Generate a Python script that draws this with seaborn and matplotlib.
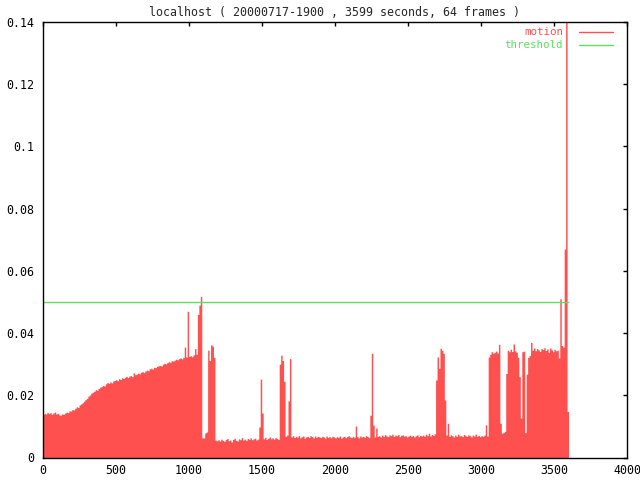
import numpy as np
import pandas as pd
import matplotlib
matplotlib.use("Agg")
import matplotlib.pyplot as plt
import seaborn as sns

title = "localhost ( 20000717-1900 , 3599 seconds, 64 frames )"
step = 10
times = list(range(0, 3600, step))
motion = [
    0.0138, 0.0142, 0.0140, 0.0145, 0.0141, 0.0144, 0.0139, 0.0143, 0.0146, 0.0140,
    0.0142, 0.0137, 0.0136, 0.0140, 0.0139, 0.0143, 0.0146, 0.0144, 0.0150, 0.0149,
    0.0154, 0.0153, 0.0158, 0.0163, 0.0161, 0.0169, 0.0172, 0.0176, 0.0181, 0.0186,
    0.0190, 0.0197, 0.0201, 0.0207, 0.0210, 0.0213, 0.0218, 0.0216, 0.0222, 0.0226,
    0.0228, 0.0232, 0.0230, 0.0237, 0.0241, 0.0238, 0.0243, 0.0240, 0.0246, 0.0248,
    0.0250, 0.0247, 0.0253, 0.0251, 0.0256, 0.0254, 0.0258, 0.0261, 0.0257, 0.0262,
    0.0263, 0.0260, 0.0272, 0.0266, 0.0268, 0.0271, 0.0269, 0.0274, 0.0276, 0.0273,
    0.0278, 0.0281, 0.0279, 0.0285, 0.0287, 0.0284, 0.0290, 0.0289, 0.0293, 0.0295,
    0.0296, 0.0294, 0.0300, 0.0303, 0.0301, 0.0305, 0.0308, 0.0306, 0.0311, 0.0310,
    0.0313, 0.0316, 0.0314, 0.0318, 0.0320, 0.0317, 0.0322, 0.0355, 0.0323, 0.0470,
    0.0325, 0.0327, 0.0324, 0.0330, 0.0350, 0.0332, 0.0460, 0.0490, 0.0518, 0.0063,
    0.0063, 0.0079, 0.0082, 0.0345, 0.0312, 0.0362, 0.0358, 0.0322, 0.0056, 0.0054,
    0.0057, 0.0053, 0.0059, 0.0055, 0.0052, 0.0058, 0.0061, 0.0054, 0.0056, 0.0050,
    0.0058, 0.0062, 0.0055, 0.0053, 0.0060, 0.0057, 0.0064, 0.0056, 0.0059, 0.0055,
    0.0061, 0.0058, 0.0063, 0.0057, 0.0060, 0.0062, 0.0056, 0.0059, 0.0098, 0.0252,
    0.0143, 0.0060, 0.0065, 0.0058, 0.0062, 0.0066, 0.0060, 0.0063, 0.0059, 0.0064,
    0.0061, 0.0058, 0.0300, 0.0329, 0.0312, 0.0245, 0.0068, 0.0072, 0.0182, 0.0318,
    0.0066, 0.0070, 0.0064, 0.0068, 0.0065, 0.0071, 0.0063, 0.0067, 0.0069, 0.0062,
    0.0066, 0.0068, 0.0064, 0.0070, 0.0067, 0.0063, 0.0069, 0.0065, 0.0068, 0.0066,
    0.0064, 0.0068, 0.0066, 0.0062, 0.0069, 0.0065, 0.0067, 0.0063, 0.0068, 0.0066,
    0.0063, 0.0067, 0.0065, 0.0069, 0.0062, 0.0066, 0.0068, 0.0064, 0.0067, 0.0070,
    0.0066, 0.0064, 0.0068, 0.0065, 0.0101, 0.0067, 0.0063, 0.0069, 0.0066, 0.0068,
    0.0065, 0.0070, 0.0067, 0.0064, 0.0136, 0.0335, 0.0104, 0.0066, 0.0095, 0.0068,
    0.0070, 0.0066, 0.0072, 0.0068, 0.0074, 0.0069, 0.0067, 0.0073, 0.0070, 0.0075,
    0.0068, 0.0072, 0.0070, 0.0074, 0.0067, 0.0071, 0.0073, 0.0069, 0.0070, 0.0066,
    0.0069, 0.0072, 0.0068, 0.0071, 0.0066, 0.0070, 0.0073, 0.0067, 0.0071, 0.0069,
    0.0072, 0.0068, 0.0075, 0.0070, 0.0078, 0.0069, 0.0074, 0.0071, 0.0076, 0.0249,
    0.0323, 0.0287, 0.0351, 0.0345, 0.0335, 0.0185, 0.0072, 0.0110, 0.0068, 0.0073,
    0.0070, 0.0066, 0.0072, 0.0068, 0.0075, 0.0069, 0.0071, 0.0067, 0.0074, 0.0070,
    0.0068, 0.0073, 0.0070, 0.0066, 0.0072, 0.0069, 0.0075, 0.0068, 0.0071, 0.0067,
    0.0070, 0.0068, 0.0072, 0.0105, 0.0069, 0.0323, 0.0332, 0.0340, 0.0335, 0.0338,
    0.0342, 0.0336, 0.0364, 0.0110, 0.0078, 0.0080, 0.0084, 0.0270, 0.0345, 0.0340,
    0.0348, 0.0341, 0.0365, 0.0343, 0.0338, 0.0322, 0.0260, 0.0127, 0.0340, 0.0342,
    0.0080, 0.0268, 0.0322, 0.0328, 0.0370, 0.0345, 0.0352, 0.0343, 0.0350, 0.0346,
    0.0341, 0.0350, 0.0347, 0.0353, 0.0344, 0.0349, 0.0338, 0.0352, 0.0346, 0.0340,
    0.0348, 0.0343, 0.0345, 0.0320, 0.0510, 0.0360, 0.0355, 0.0670, 0.1450, 0.0148,
]
threshold_times = [0, 3599]
threshold = [0.05, 0.05]

x_ticks = [0, 500, 1000, 1500, 2000, 2500, 3000, 3500, 4000]
y_ticks = [0, 0.02, 0.04, 0.06, 0.08, 0.1, 0.12, 0.14]
y_tick_labels = ["0", "0.02", "0.04", "0.06", "0.08", "0.1", "0.12", "0.14"]

RED = "#ff5050"
GREEN = "#5ee05e"
FONT = "DejaVu Sans Mono"
FS = 8.4
LEG_FS = 7.8

sns.set_style("white")
plt.rcParams["font.family"] = [FONT]

df = pd.DataFrame({"t": times, "motion": motion})
edges = times + [times[-1] + step]

fig = plt.figure(figsize=(6.4, 4.8), dpi=100)
ax = fig.add_axes([42.5 / 640, 1 - 457.5 / 480, 584.5 / 640, 435.5 / 480])

sns.histplot(data=df, x="t", weights="motion", bins=edges, element="step",
             fill=True, color=RED, alpha=1.0, linewidth=0, ax=ax)
sns.lineplot(x=threshold_times, y=threshold, color=GREEN, linewidth=1, ax=ax)

ax.set_xlim(0, 4000)
ax.set_ylim(0, 0.14)
ax.set_xticks(x_ticks)
ax.set_xticklabels([str(v) for v in x_ticks])
ax.set_yticks(y_ticks)
ax.set_yticklabels(y_tick_labels)
ax.set_xlabel("")
ax.set_ylabel("")
for s in ax.spines.values():
    s.set_visible(True)
    s.set_color("black")
    s.set_linewidth(1)
ax.tick_params(axis="both", direction="in", length=3.2, width=1, color="black",
               labelsize=FS, top=True, right=True, labelcolor="black")
ax.tick_params(axis="x", pad=4.5)
ax.tick_params(axis="y", pad=6)

ax.set_title(title, fontsize=FS, pad=4.5, family=FONT)

# legend (gnuplot style: text right-aligned, sample line to the right)
ax.text(0.8905, 0.976, "motion", transform=ax.transAxes, ha="right", va="center",
        fontsize=LEG_FS, color=RED)
ax.plot([0.918, 0.976], [0.976, 0.976], transform=ax.transAxes, color=RED, lw=1)
ax.text(0.8905, 0.948, "threshold", transform=ax.transAxes, ha="right", va="center",
        fontsize=LEG_FS, color=GREEN)
ax.plot([0.918, 0.976], [0.948, 0.948], transform=ax.transAxes, color=GREEN, lw=1)

fig.savefig("out.png", dpi=100)
